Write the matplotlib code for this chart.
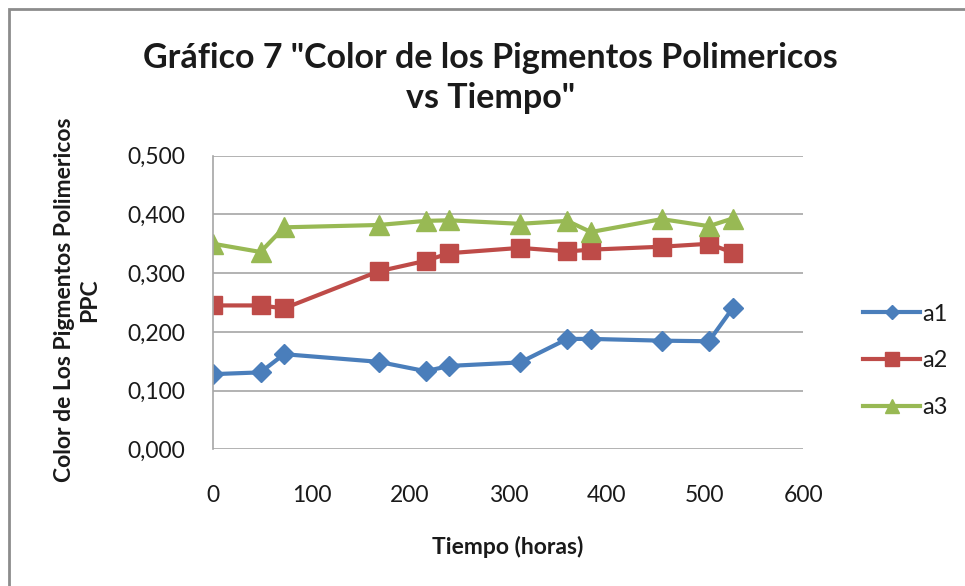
import matplotlib
matplotlib.use("Agg")
import matplotlib.pyplot as plt
from matplotlib.patches import Rectangle
from matplotlib.ticker import FuncFormatter

# tiempo de muestreo (horas)
horas = [0, 48, 72, 168, 216, 240, 312, 360, 384, 456, 504, 528]

# color de los pigmentos polimericos por muestra
a1 = [0.128, 0.131, 0.162, 0.149, 0.133, 0.142, 0.148, 0.188, 0.188, 0.185, 0.184, 0.240]
a2 = [0.245, 0.245, 0.240, 0.303, 0.321, 0.334, 0.343, 0.337, 0.340, 0.345, 0.350, 0.335]
a3 = [0.350, 0.336, 0.378, 0.382, 0.389, 0.390, 0.384, 0.389, 0.370, 0.392, 0.380, 0.393]

plt.rcParams['font.family'] = ['Lato', 'DejaVu Sans']
texto = "#1a1a1a"
gris = "#a6a6a6"

fig = plt.figure(figsize=(9.65, 5.86), dpi=100)
ax = fig.add_axes([213.3 / 965, 1 - 449.3 / 586, 590 / 965, 293.6 / 586])

ax.plot(horas, a1, color="#4a7ebb", lw=3, marker="D", ms=10, label="a1")
ax.plot(horas, a2, color="#be4b48", lw=3, marker="s", ms=13, label="a2")
ax.plot(horas, a3, color="#98b954", lw=3, marker="^", ms=14, label="a3")

ax.set_xlim(0, 600)
ax.set_ylim(0, 0.5)
ax.set_xticks(range(0, 601, 100))
ax.set_yticks([0, 0.1, 0.2, 0.3, 0.4, 0.5])
ax.yaxis.set_major_formatter(FuncFormatter(lambda v, p: f"{v:.3f}".replace(".", ",")))
ax.grid(axis="y", color=gris, lw=1.2)
ax.set_axisbelow(True)
for s in ["top", "right", "bottom"]:
    ax.spines[s].set_visible(False)
ax.spines["left"].set_color(gris)
ax.spines["left"].set_linewidth(1.2)
ax.tick_params(length=0, labelsize=16.5, colors=texto, pad=20)
ax.tick_params(axis="x", pad=26)
for lab in ax.get_xticklabels() + ax.get_yticklabels():
    lab.set_color(texto)

fig.text(0.508, 1 - 78 / 586, "Gráfico 7 \"Color de los Pigmentos Polimericos\nvs Tiempo\"",
         ha="center", va="center", fontsize=24.5, fontweight="bold", color=texto, linespacing=1.32)
fig.text(508 / 965, 1 - 547 / 586, "Tiempo (horas)", ha="center", va="center",
         fontsize=16.5, fontweight="bold", color=texto)
fig.text(77 / 965, 1 - 300 / 586, "Color de Los Pigmentos Polimericos\nPPC", ha="center", va="center",
         rotation=90, fontsize=16.5, fontweight="bold", color=texto, linespacing=1.25)

leg = fig.legend(loc="center left", bbox_to_anchor=(842 / 965, 1 - 361 / 586), frameon=False,
                 fontsize=17, handlelength=2.4, labelspacing=1.1, handletextpad=0.1,
                 markerscale=0.75)
for t in leg.get_texts():
    t.set_color(texto)

# marco del grafico
fig.patches.append(Rectangle((9 / 965, -0.1), 1.2, 1 - 9 / 586 + 0.1, transform=fig.transFigure,
                             fill=False, edgecolor="#8c8c8c", lw=2))

fig.savefig("out.png", dpi=100)
